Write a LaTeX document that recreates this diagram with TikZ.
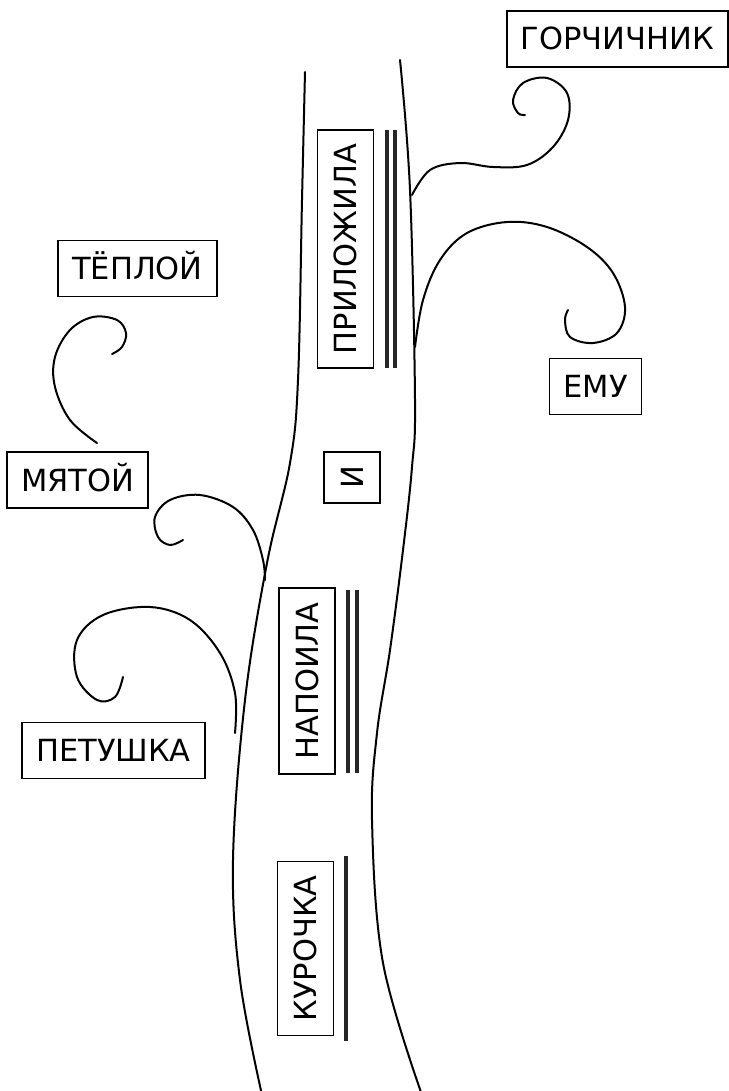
\documentclass[tikz,border=0pt]{standalone}
\usepackage{fontspec}
\setmainfont{DejaVu Sans}
\usetikzlibrary{positioning}

\tikzset{
  word/.style={draw, line width=1.8pt, inner xsep=14pt, inner ysep=0pt,
    text height=22pt, text depth=0pt, minimum height=56pt,
    font=\fontsize{30.5}{36}\selectfont},
  vword/.style={word, rotate=90},
  stem/.style={line width=2pt, line cap=round},
  under/.style={line width=3.4pt, draw=black!85},
}

\begin{document}
\begin{tikzpicture}[x=1pt, y=-1pt]
				\useasboundingbox (0,0) rectangle (728,1091);

				% words
				\node[word] (gorch) at (617.5,39) {ГОРЧИЧНИК};
				\node[word] (emu) at (595.5,386.5) {ЕМУ};
				\node[word] (teplo) at (137.5,268.5) {ТЁПЛОЙ};
				\node[word] (myata) at (77.5,480) {МЯТОЙ};
				\node[word] (petush) at (113.5,750.5) {ПЕТУШКА};
				\node[vword] (prilozh) at (345.5,249) {ПРИЛОЖИЛА};
				\node[vword] (i) at (352,477.5) {И};
				\node[vword] (napoila) at (307,681) {НАПОИЛА};
				\node[vword] (kuroch) at (305.5,948.5) {КУРОЧКА};

				% underlines
				\draw[under] (387,130) -- (387,368);
				\draw[under] (395,130) -- (395,368);
				\draw[under] (348,590) -- (348,773);
				\draw[under] (357,590) -- (357,773);
				\draw[under] (346,856) -- (346,1041);

				% trunk
				\draw[stem] plot[smooth, tension=0.6] coordinates {(305,72) (302,200) (298,380) (290,463) (267,563) (245,700) (233,860) (240,980) (262,1095)};
				\draw[stem] plot[smooth, tension=0.6] coordinates {(400,60) (410,190) (415,400) (412,467) (403,550) (390,650) (377,733) (372,820) (383,963) (422,1095)};

				% branches
				\draw[stem] plot[smooth, tension=0.6] coordinates {(412,195) (430,170) (460,163) (493,167) (527,165) (553,147) (568,120) (567,93) (547,78) (523,83) (513,100) (518,113) (525,115)};
				\draw[stem] plot[smooth, tension=0.6] coordinates {(415,347) (423,300) (440,260) (467,233) (507,222) (547,227) (587,247) (613,273) (625,307) (617,333) (593,343) (570,337) (565,320) (568,310)};
				\draw[stem] plot[smooth, tension=0.6] coordinates {(97,443) (70,420) (55,387) (55,357) (70,330) (93,317) (117,320) (126,333) (122,347) (112,354)};
				\draw[stem] plot[smooth, tension=0.6] coordinates {(265,580) (263,560) (253,530) (233,507) (200,495) (170,500) (155,517) (158,537) (170,545) (183,540)};
				\draw[stem] plot[smooth, tension=0.6] coordinates {(235,733) (235,693) (220,653) (190,620) (150,607) (103,615) (77,640) (77,677) (97,700) (115,697) (123,677)};
			\end{tikzpicture}
\end{document}
